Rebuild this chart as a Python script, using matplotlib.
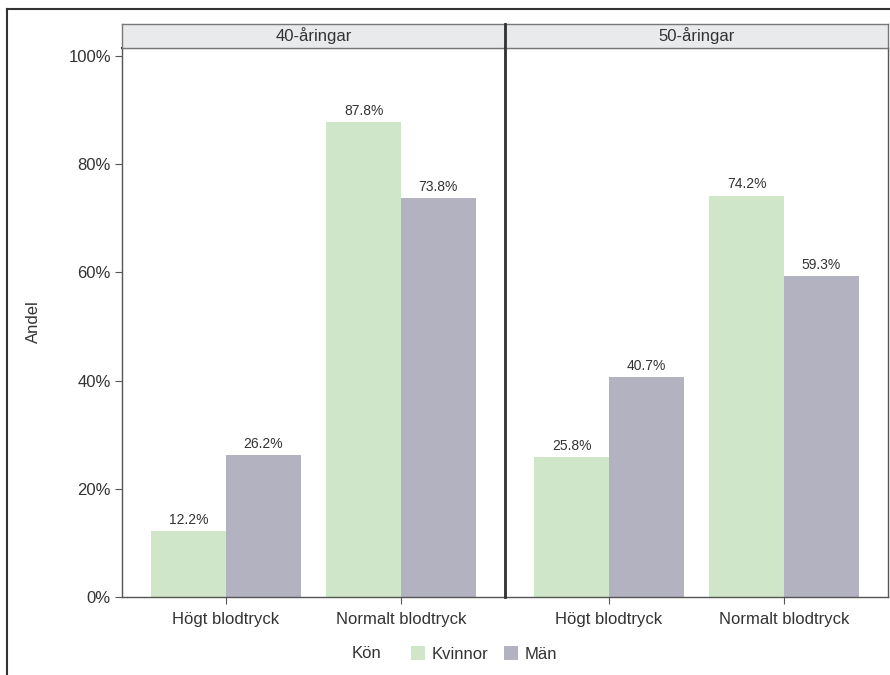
import matplotlib
matplotlib.use("Agg")
import matplotlib.pyplot as plt
from matplotlib.patches import Patch
from matplotlib.lines import Line2D
import numpy as np

plt.rcParams['font.family'] = ['Liberation Sans', 'DejaVu Sans']

panels = ["40-åringar", "50-åringar"]
categories = ["Högt blodtryck", "Normalt blodtryck"]
series = ["Kvinnor", "Män"]
values = {
    "40-åringar": {"Kvinnor": [12.2, 87.8], "Män": [26.2, 73.8]},
    "50-åringar": {"Kvinnor": [25.8, 74.2], "Män": [40.7, 59.3]},
}
yticks = [0, 20, 40, 60, 80, 100]
ytick_labels = ["0%", "20%", "40%", "60%", "80%", "100%"]
colors = {"Kvinnor": "#D0E6C8", "Män": "#B3B2C0"}

W, H = 890, 675
fig = plt.figure(figsize=(W / 100, H / 100), dpi=100)
text_c = "#333333"
spine_c = "#555555"

def fx(px):
    return px / W

def fy(py):
    return 1 - py / H

panel_x = [(122, 505), (505, 888)]
top, bottom, strip_top = 48, 597, 24
bw = 0.426
xpos = np.arange(len(categories))

for i, name in enumerate(panels):
    x0, x1 = panel_x[i]
    ax = fig.add_axes([fx(x0), fy(bottom), fx(x1 - x0), (bottom - top) / H])
    for j, s in enumerate(series):
        offs = (j - 0.5) * bw
        bars = ax.bar(xpos + offs, values[name][s], width=bw, color=colors[s],
                      edgecolor="none", linewidth=0)
        for b, v in zip(bars, values[name][s]):
            ax.annotate(f"{v:.1f}%", (b.get_x() + b.get_width() / 2, v),
                        xytext=(0, 3), textcoords="offset points",
                        ha="center", va="bottom", fontsize=10, color=text_c)
    ax.set_xlim(-0.594, 1.594)
    ax.set_ylim(0, 101.5)
    ax.set_xticks(xpos)
    ax.set_xticklabels(categories, fontsize=12, color=text_c)
    ax.tick_params(axis="x", length=5, color=spine_c, pad=6)
    ax.set_yticks(yticks)
    if i == 0:
        ax.set_yticklabels(ytick_labels, fontsize=12, color=text_c)
        ax.tick_params(axis="y", length=5, color=spine_c, pad=3)
    else:
        ax.tick_params(axis="y", left=False, labelleft=False)
    for sp in ax.spines.values():
        sp.set_color(spine_c)
        sp.set_linewidth(1.0)
    ax.spines["top"].set_color("#333333")
    ax.spines["top"].set_linewidth(1.5)

    sax = fig.add_axes([fx(x0), fy(top), fx(x1 - x0), (top - strip_top) / H])
    sax.set_facecolor("#E9EAEC")
    sax.set_xticks([])
    sax.set_yticks([])
    for sp in sax.spines.values():
        sp.set_color("#777777")
        sp.set_linewidth(1.0)
    sax.text(0.5, 0.5, name, transform=sax.transAxes, ha="center", va="center",
             fontsize=12, color=text_c)

# divider between panels
fig.add_artist(Line2D([fx(505), fx(505)], [fy(strip_top), fy(bottom)],
                      color="#333333", linewidth=2.0))

fig.text(fx(33), fy(322), "Andel", rotation=90, ha="center", va="center",
         fontsize=12, color=text_c)

# legend
fig.text(fx(352), fy(654), "Kön", ha="left", va="center", fontsize=12, color=text_c)
handles = [Patch(facecolor=colors[s], edgecolor="none") for s in series]
fig.legend(handles, series, loc="center left", bbox_to_anchor=(fx(411), fy(654)),
           ncol=2, frameon=False, fontsize=12, handlelength=0.84, handleheight=0.84,
           handletextpad=0.42, columnspacing=0.9, borderpad=0, borderaxespad=0,
           labelcolor=text_c)

# outer border
fig.add_artist(Line2D([fx(7), fx(7)], [fy(9), 0], color="#333333", linewidth=1.5))
fig.add_artist(Line2D([fx(7), 1], [fy(9), fy(9)], color="#333333", linewidth=1.5))

fig.savefig("out.png", dpi=100)
